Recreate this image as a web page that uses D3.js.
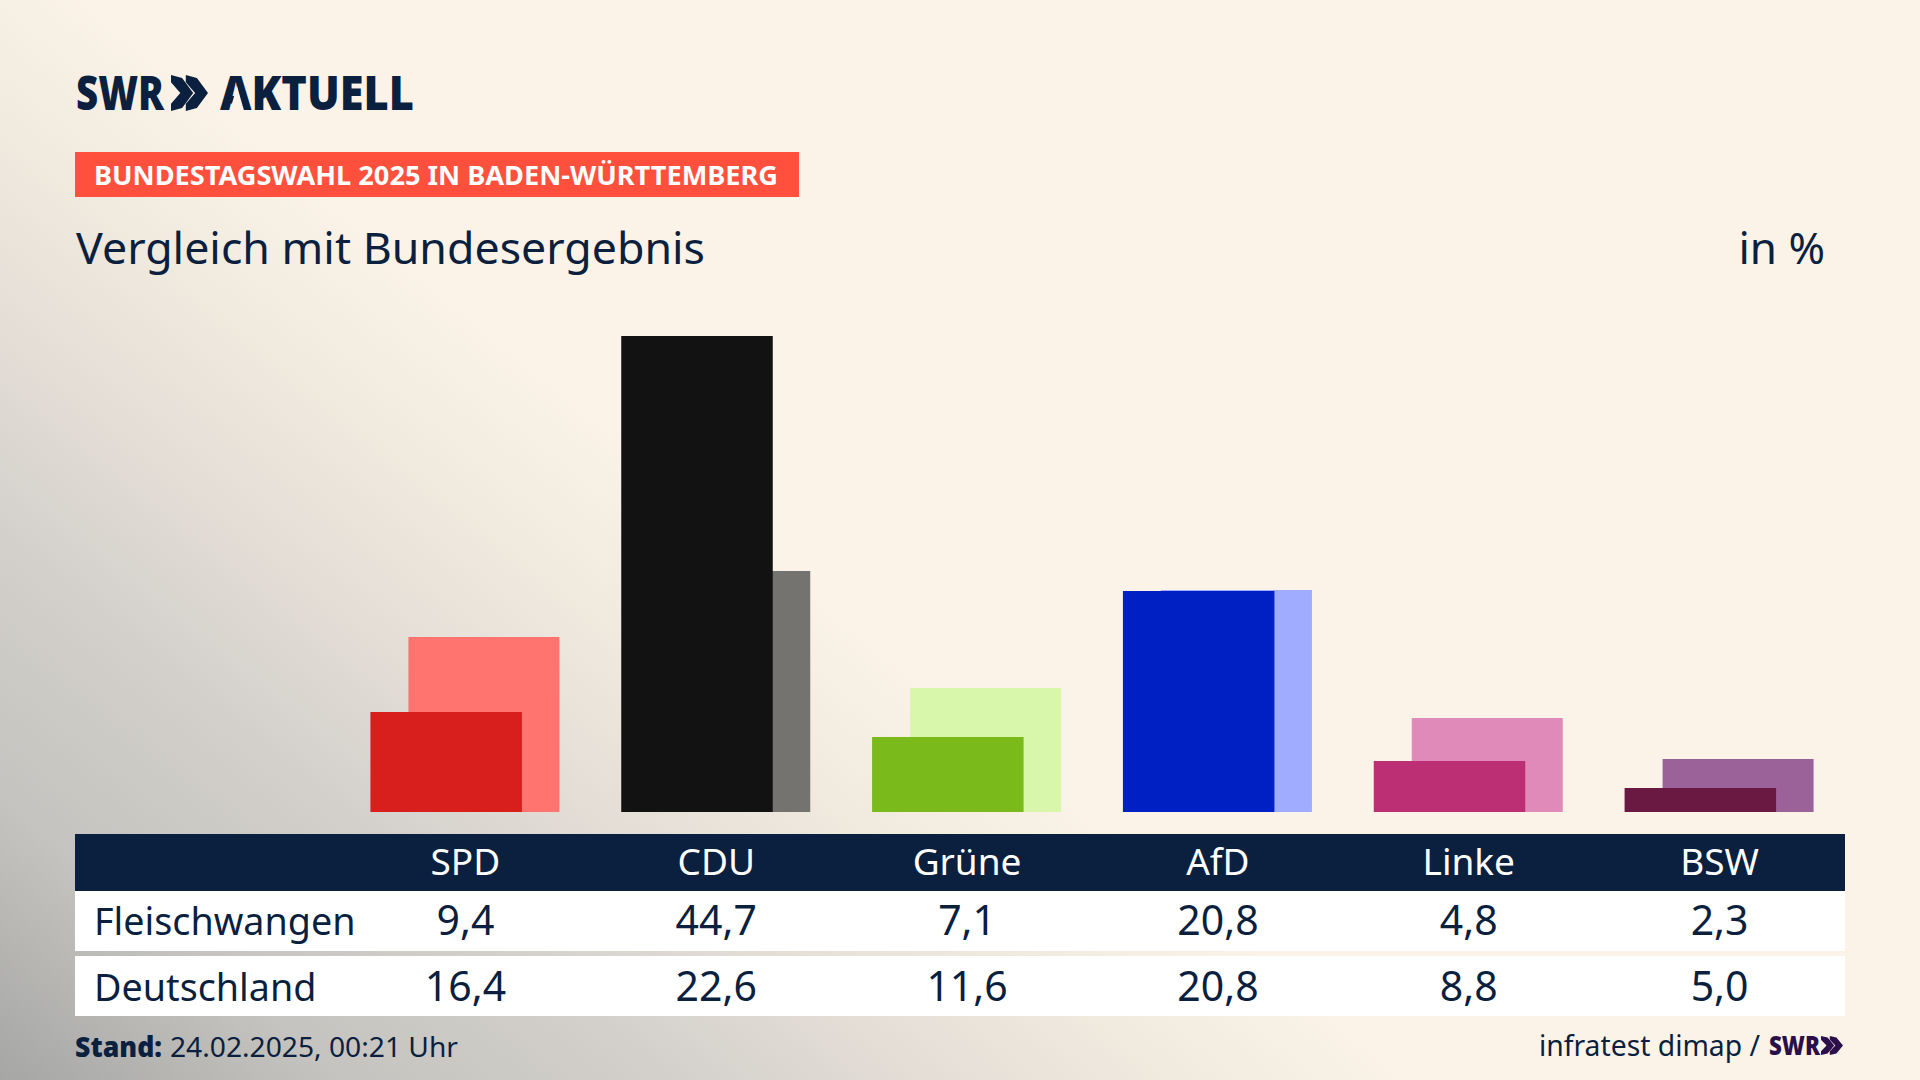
<!DOCTYPE html>
<html>
<head>
<meta charset="utf-8">
<script src="https://cdn.jsdelivr.net/npm/d3@7/dist/d3.min.js"></script>
<style>
  html, body { margin: 0; padding: 0; background: #fbf3e8; }
  svg { display: block; }
  text { font-family: "Noto Sans", "Lato", sans-serif; fill: #0b1f3f; }
</style>
</head>
<body>
<div id="chart"></div>
<script>
const parties = ["SPD", "CDU", "Grüne", "AfD", "Linke", "BSW"];
const fleischwangen = [9.4, 44.7, 7.1, 20.8, 4.8, 2.3];
const deutschland = [16.4, 22.6, 11.6, 20.8, 8.8, 5.0];
const darkColors = ["#d91f1e", "#121212", "#7abb1b", "#0120c4", "#bc2f75", "#6a1a42"];
const lightColors = ["#ff746f", "#74736f", "#d8f7ab", "#9facff", "#df8ab8", "#9b6199"];
const rows = ["Fleischwangen", "Deutschland"];

const navy = "#0b1f3f";
const cream = "#fbf3e8";
const width = 1920;
const height = 1080;

const svg = d3.select("#chart").append("svg")
  .attr("width", width)
  .attr("height", height)
  .attr("viewBox", `0 0 ${width} ${height}`);

// background: diagonal fade from grey in the bottom left corner to cream
const grad = svg.append("defs").append("linearGradient")
  .attr("id", "bg")
  .attr("gradientUnits", "userSpaceOnUse")
  .attr("x1", 0).attr("y1", 1080).attr("x2", 567).attr("y2", 382);
[[0, "#a6a6a5"], [0.24, "#c4c3bf"], [0.47, "#d3d0cb"], [0.67, "#e5dfd7"], [0.83, "#f1eadf"], [1, cream]]
  .forEach(s => grad.append("stop").attr("offset", s[0]).attr("stop-color", s[1]));
svg.append("rect").attr("width", width).attr("height", height).attr("fill", "url(#bg)");

// scales
const x = d3.scaleBand().domain(parties).range([340, 1845]);
const y = d3.scaleLinear().domain([0, 44.7]).range([812, 336]);
const barW = 152;
const offset = 38;
const center = d => x(d) + x.bandwidth() / 2;
const topBack = v => Math.round(y(v) - 0.1);

// bars, national result behind
svg.append("g").selectAll("rect").data(parties).join("rect")
  .attr("x", d => center(d) - barW / 2 + offset / 2)
  .attr("y", (d, i) => topBack(deutschland[i]))
  .attr("width", barW - 1)
  .attr("height", (d, i) => y(0) - topBack(deutschland[i]))
  .attr("fill", (d, i) => lightColors[i]);

svg.append("g").selectAll("rect").data(parties).join("rect")
  .attr("x", d => center(d) - barW / 2 - offset / 2)
  .attr("y", (d, i) => Math.ceil(y(fleischwangen[i])))
  .attr("width", barW - 0.5)
  .attr("height", (d, i) => y(0) - Math.ceil(y(fleischwangen[i])))
  .attr("fill", (d, i) => darkColors[i]);

function label(txt, px, py, size, opts = {}) {
  const t = svg.append("text")
    .attr("x", px).attr("y", py)
    .attr("font-size", size)
    .attr("text-anchor", opts.anchor || "start")
    .attr("font-weight", opts.weight || 400)
    .text(txt);
  if (opts.fill) t.style("fill", opts.fill);
  if (opts.len) t.attr("textLength", opts.len).attr("lengthAdjust", "spacingAndGlyphs");
  return t;
}

// double chevron of the SWR logo
function chevrons(px, py, w, h, fill) {
  const cw = w * 0.6;
  const g = svg.append("g").attr("fill", fill);
  [0, w - cw].forEach(dx => {
    const a = px + dx;
    g.append("path").attr("d",
      `M${a} ${py} L${a + cw * 0.5} ${py + h * 0.08} L${a + cw} ${py + h / 2} L${a + cw * 0.5} ${py + h * 0.92} L${a} ${py + h} L${a} ${py + h * 0.8} L${a + cw * 0.42} ${py + h / 2} L${a} ${py + h * 0.2} Z`);
  });
}

// logo, the A has no crossbar in the wordmark
label("SWR", 76, 110, 48, { weight: 900, len: 88 });
chevrons(171, 75, 37, 36, navy);
label("AKTUELL", 220, 110, 48, { weight: 900, len: 194 });
svg.append("path").attr("d", "M237 86 L244 110.5 L230 110.5 Z").attr("fill", cream);

svg.append("rect").attr("x", 75).attr("y", 152).attr("width", 724).attr("height", 45).attr("fill", "#ff4f3d");
label("BUNDESTAGSWAHL 2025 IN BADEN-WÜRTTEMBERG", 94, 185, 27, { weight: 700, len: 684, fill: "#ffffff" });

label("Vergleich mit Bundesergebnis", 76, 264, 44, { len: 629 });
label("in %", 1825, 264, 44, { anchor: "end" });

// table
const tableX = 75;
const tableW = 1770;
svg.append("rect").attr("x", tableX).attr("y", 834).attr("width", tableW).attr("height", 57).attr("fill", navy);
svg.append("rect").attr("x", tableX).attr("y", 891).attr("width", tableW).attr("height", 60).attr("fill", "#fff");
svg.append("rect").attr("x", tableX).attr("y", 956).attr("width", tableW).attr("height", 60).attr("fill", "#fff");

parties.forEach(p => label(p, center(p), 875, 37, { anchor: "middle", fill: "#ffffff" }));

const fmt = v => v.toFixed(1).replace(".", ",");
[fleischwangen, deutschland].forEach((vals, r) => {
  const base = [935, 1001][r];
  label(rows[r], 94, base, 37.7);
  vals.forEach((v, i) => label(fmt(v), center(parties[i]), base, 41, { anchor: "middle" }));
});

// footer
label("Stand:", 75, 1057, 28, { weight: 900, len: 87 });
label("24.02.2025, 00:21 Uhr", 170, 1057, 28, { len: 288 });
label("infratest dimap /", 1539, 1056, 29, { len: 221 });
label("SWR", 1769, 1055, 27, { weight: 900, len: 51, fill: "#2a0f4a" });
chevrons(1821, 1036, 22, 19, "#2a0f4a");
</script>
</body>
</html>
